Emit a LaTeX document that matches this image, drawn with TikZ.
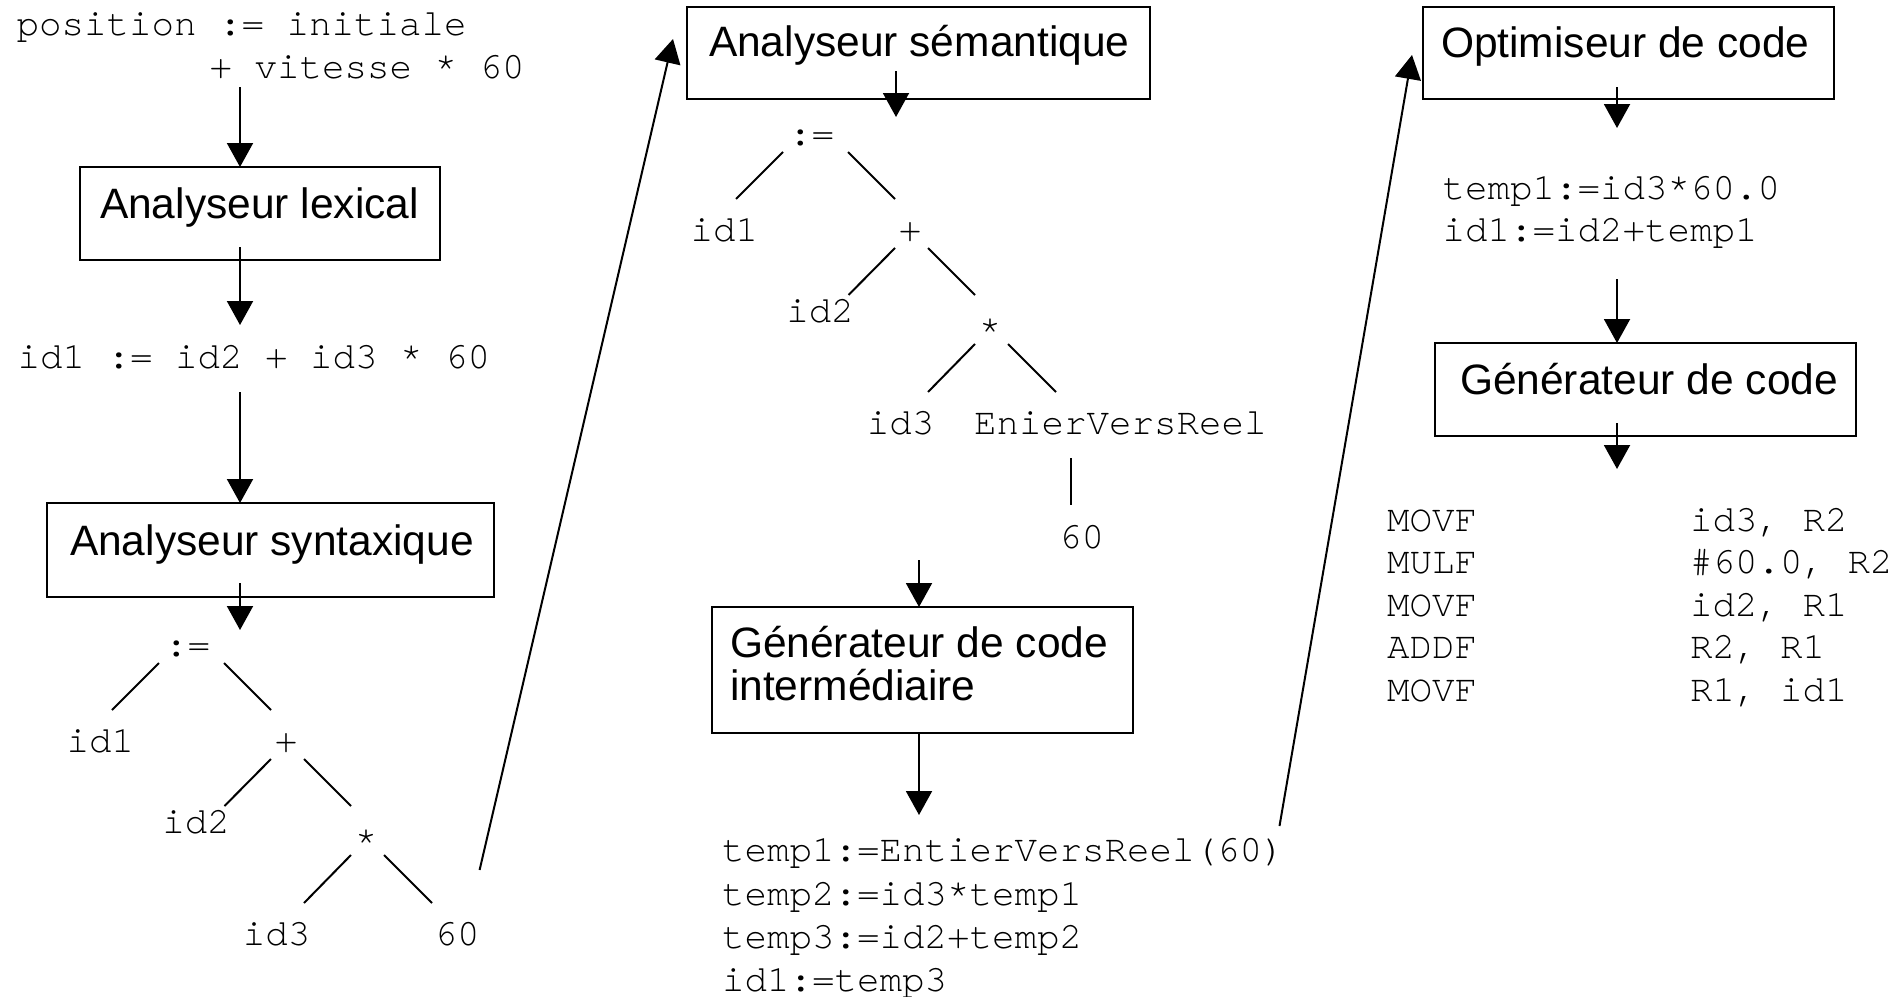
\documentclass[tikz,border=0pt]{standalone}
\usepackage{fontspec}
\setmainfont{Liberation Sans}
\newfontfamily\codefont{TeX Gyre Cursor}
\usetikzlibrary{arrows.meta,calc}

\tikzset{
  every node/.style={inner sep=0pt, outer sep=0pt},
  box/.style={draw, line width=2.2pt, anchor=north west},
  title/.style={anchor=base west, font=\fontsize{42.5}{50}\selectfont},
  code/.style={anchor=base west, font=\codefont\fontsize{37.5}{44}\selectfont},
  tlabel/.style={anchor=base, font=\codefont\fontsize{37.5}{44}\selectfont},
  flow/.style={line width=2pt, -{Triangle[width=26pt,length=24pt]}},
  edge/.style={line width=2pt},
}

\begin{document}
\begin{tikzpicture}[x=1pt, y=-1pt]
\useasboundingbox (0,0) rectangle (1897,996);

% ---------- left column: lexical and syntax analysis ----------
\node[code] (src1) at (16.5,35) {position := initiale};
\node[code] (src2) at (209.5,78) {+ vitesse * 60};

\node[box, minimum width=360pt, minimum height=93pt] (lex) at (80,167) {};
\node[title] (tLex) at (100,218) {Analyseur lexical};

\node[code] (tok) at (17.5,368) {id1 := id2 + id3 * 60};

\node[box, minimum width=447pt, minimum height=94pt] (syn) at (47,503) {};
\node[title] (tSyn) at (70,555) {Analyseur syntaxique};

\coordinate (p1) at (240,87);
\coordinate (p2) at (240,247);
\coordinate (p2e) at (240,325);
\coordinate (p3) at (240,392);
\coordinate (p4) at (240,583);
\coordinate (p4e) at (240,630);
\draw[flow] (p1) -- (p1 |- lex.north);
\draw[flow] (p2) -- (p2e);
\draw[flow] (p3) -- (p3 |- syn.north);
\draw[flow] (p4) -- (p4e);

% syntax tree
\node[tlabel] (asgA) at (187.5,656) {:=};
\node[tlabel] (idA1) at (100.4,752) {id1};
\node[tlabel] (plusA) at (286,752) {+};
\node[tlabel] (idA2) at (196,833) {id2};
\node[tlabel] (starA) at (366,852) {*};
\node[tlabel] (idA3) at (276.5,945) {id3};
\node[tlabel] (numA) at (457,945) {60};

\draw[edge] ($(asgA.base)+(-28.5,7)$) -- ($(idA1.base)+(11.6,-42)$);
\draw[edge] ($(asgA.base)+(36.5,7)$) -- ($(plusA.base)+(-15,-42)$);
\draw[edge] ($(plusA.base)+(-15,7)$) -- ($(idA2.base)+(28.5,-27)$);
\draw[edge] ($(plusA.base)+(18,7)$) -- ($(starA.base)+(-15,-46)$);
\draw[edge] ($(starA.base)+(-15,3)$) -- ($(idA3.base)+(27.5,-42)$);
\draw[edge] ($(starA.base)+(18,3)$) -- ($(numA.base)+(-25,-42)$);

% ---------- middle column: semantic analysis, intermediate code ----------
\node[box, minimum width=463pt, minimum height=92pt] (sem) at (687,7) {};
\node[title] (tSem) at (709,56) {Analyseur sémantique};

\coordinate (d1s) at (479.6,870);
\coordinate (d1e) at (673,39);
\draw[flow] (d1s) -- (d1e);

\coordinate (q1) at (896,71);
\coordinate (q1e) at (896,117);
\draw[flow] (q1) -- (q1e);

% annotated tree
\node[tlabel] (asgB) at (811.5,145) {:=};
\node[tlabel] (idB1) at (724.4,241) {id1};
\node[tlabel] (plusB) at (910,241) {+};
\node[tlabel] (idB2) at (820,322) {id2};
\node[tlabel] (starB) at (990,341) {*};
\node[tlabel] (idB3) at (900.5,434) {id3};
\node[code] (conv) at (974,434) {EnierVersReel};
\node[tlabel] (numB) at (1081.5,548) {60};

\draw[edge] ($(asgB.base)+(-28.5,7)$) -- ($(idB1.base)+(11.6,-42)$);
\draw[edge] ($(asgB.base)+(36.5,7)$) -- ($(plusB.base)+(-15,-42)$);
\draw[edge] ($(plusB.base)+(-15,7)$) -- ($(idB2.base)+(28.5,-27)$);
\draw[edge] ($(plusB.base)+(18,7)$) -- ($(starB.base)+(-15,-46)$);
\draw[edge] ($(starB.base)+(-15,3)$) -- ($(idB3.base)+(27.5,-42)$);
\draw[edge] ($(starB.base)+(18,3)$) -- ($(conv.base west)+(82,-42)$);
\draw[edge] ($(conv.base west)+(97.4,24)$) -- ($(numB.base)+(-10.1,-43.5)$);

\node[box, minimum width=421pt, minimum height=126pt] (mid) at (712,607) {};
\node[title] (tMid1) at (730,657) {Générateur de code};
\node[title] (tMid2) at (730,700) {intermédiaire};

\coordinate (q2) at (919,560);
\coordinate (q3e) at (919,815);
\draw[flow] (q2) -- (q2 |- mid.north);
\draw[flow] (mid.south -| q3e) -- (q3e);

\node[code] (ic1) at (722,861.5) {temp1:=EntierVersReel(60)};
\node[code] (ic2) at (722,905) {temp2:=id3*temp1};
\node[code] (ic3) at (722,948) {temp3:=id2+temp2};
\node[code] (ic4) at (722,991) {id1:=temp3};

% ---------- right column: optimisation and code generation ----------
\coordinate (d2s) at (1279.5,826);
\coordinate (d2e) at (1412,55);
\draw[flow] (d2s) -- (d2e);

\node[box, minimum width=411pt, minimum height=92pt] (opt) at (1423,7) {};
\node[title] (tOpt) at (1441,57.5) {Optimiseur de code};

\coordinate (r1) at (1617,87);
\coordinate (r1e) at (1617,128);
\draw[flow] (r1) -- (r1e);

\node[code] (oc1) at (1442.5,199) {temp1:=id3*60.0};
\node[code] (oc2) at (1442.5,241) {id1:=id2+temp1};

\node[box, minimum width=421pt, minimum height=93pt] (gen) at (1435,343) {};
\node[title] (tGen) at (1460,394) {Générateur de code};

\coordinate (r2) at (1617,279);
\coordinate (r3) at (1617,423);
\coordinate (r3e) at (1617,469);
\draw[flow] (r2) -- (r2 |- gen.north);
\draw[flow] (r3) -- (r3e);

\node[code] (op1) at (1387,531) {MOVF};
\node[code] (op2) at (1387,573.5) {MULF};
\node[code] (op3) at (1387,616) {MOVF};
\node[code] (op4) at (1387,658.5) {ADDF};
\node[code] (op5) at (1387,701) {MOVF};
\node[code] (ar1) at (1690,531) {id3, R2};
\node[code] (ar2) at (1690,573.5) {\#60.0, R2};
\node[code] (ar3) at (1690,616) {id2, R1};
\node[code] (ar4) at (1690,658.5) {R2, R1};
\node[code] (ar5) at (1690,701) {R1, id1};
\end{tikzpicture}
\end{document}
